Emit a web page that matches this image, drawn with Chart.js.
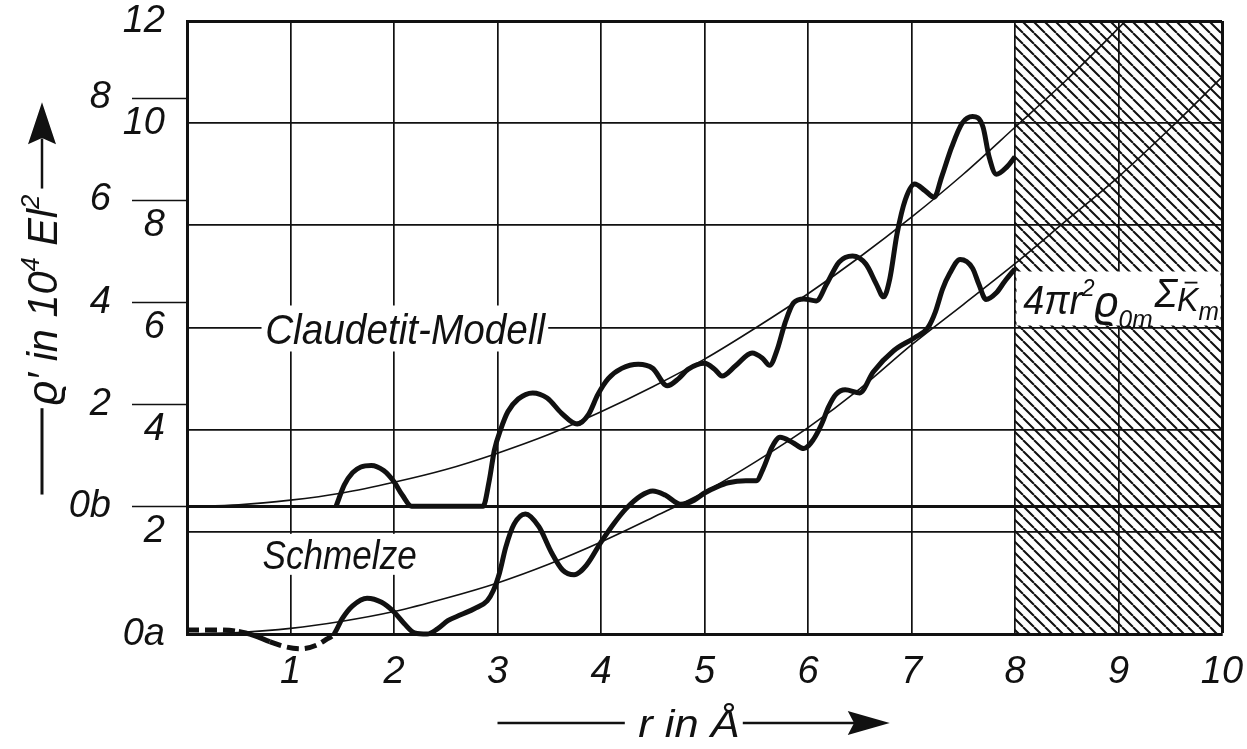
<!DOCTYPE html>
<html>
<head>
<meta charset="utf-8">
<script src="https://cdn.jsdelivr.net/npm/chart.js@4.4.1/dist/chart.umd.min.js"></script>
<style>
  html, body { margin: 0; padding: 0; background: #fff; }
  #wrap { width: 1247px; height: 749px; }
</style>
</head>
<body>
<div id="wrap"><canvas id="chart" width="1247" height="749"></canvas></div>
<script>
// r in Angstrom (x), curve a = Schmelze (left inner scale), curve b = Claudetit-Modell (outer scale)
const xTicks = [1, 2, 3, 4, 5, 6, 7, 8, 9, 10];
const aTicks = [0, 2, 4, 6, 8, 10, 12];
const bTicks = [0, 2, 4, 6, 8];

const claudetitR = [1.44, 1.52, 1.6, 1.68, 1.78, 1.9, 2.0, 2.08, 2.17, 2.5,
  2.86, 2.92, 2.97, 3.03, 3.1, 3.2, 3.34, 3.48, 3.62, 3.77,
  3.88, 3.97, 4.07, 4.2, 4.36, 4.5, 4.64, 4.75, 4.84, 5.0,
  5.1, 5.17, 5.3, 5.46, 5.56, 5.63, 5.7, 5.78, 5.86, 5.96,
  6.08, 6.18, 6.3, 6.43, 6.56, 6.66, 6.73, 6.79, 6.86, 6.94,
  7.03, 7.13, 7.22, 7.29, 7.39, 7.49, 7.59, 7.69, 7.75, 7.82,
  7.92, 8.0];
const claudetitB = [0, 0.42, 0.66, 0.77, 0.8, 0.7, 0.48, 0.22, 0, 0,
  0, 0.5, 1.1, 1.5, 1.85, 2.1, 2.22, 2.12, 1.82, 1.61,
  1.8, 2.19, 2.5, 2.7, 2.78, 2.7, 2.36, 2.5, 2.68, 2.8,
  2.68, 2.55, 2.75, 3.0, 2.9, 2.76, 3.05, 3.6, 3.98, 4.06,
  4.02, 4.35, 4.78, 4.9, 4.74, 4.35, 4.1, 4.45, 5.33, 6.0,
  6.31, 6.18, 6.05, 6.44, 7.04, 7.5, 7.63, 7.43, 6.84, 6.5,
  6.64, 6.84];

const schmelzeR = [0, 0.25, 0.5, 0.65, 0.8, 0.95, 1.1, 1.25, 1.35, 1.42,
  1.5, 1.6, 1.74, 1.88, 2.0, 2.1, 2.2, 2.32, 2.42, 2.52,
  2.65, 2.78, 2.9, 2.96, 3.02, 3.08, 3.16, 3.27, 3.4, 3.52,
  3.63, 3.74, 3.86, 4.0, 4.12, 4.24, 4.38, 4.5, 4.62, 4.77,
  4.9, 5.0, 5.12, 5.23, 5.4, 5.5, 5.57, 5.65, 5.73, 5.85,
  5.96, 6.05, 6.13, 6.2, 6.27, 6.36, 6.5, 6.63, 6.83, 7.03,
  7.16, 7.23, 7.3, 7.37, 7.47, 7.59, 7.65, 7.72, 7.82, 7.9,
  8.0];
const schmelzeA = [0.08, 0.08, 0.05, -0.03, -0.15, -0.25, -0.29, -0.22, -0.1, 0,
  0.3, 0.55, 0.7, 0.62, 0.43, 0.2, 0.02, 0, 0.1, 0.26,
  0.38, 0.5, 0.65, 0.85, 1.2, 1.7, 2.15, 2.35, 2.1, 1.6,
  1.25, 1.16, 1.35, 1.8, 2.15, 2.45, 2.7, 2.8, 2.72, 2.54,
  2.62, 2.76, 2.88, 2.96, 3.0, 3.0, 3.25, 3.65, 3.85, 3.75,
  3.63, 3.8, 4.1, 4.45, 4.69, 4.78, 4.72, 5.13, 5.55, 5.8,
  6.0, 6.3, 6.75, 7.06, 7.33, 7.16, 6.85, 6.55, 6.68, 6.9,
  7.15];
// r ranges where the Schmelze curve is drawn dashed
const schmelzeDashed = [[0, 0.5], [0.8, 1.42]];

// mean density curves 4 pi r^2 rho0m Sum Km
const densityR = [0, 0.5, 1, 1.5, 2, 2.5, 3, 3.5, 4, 4.5, 5, 5.5, 6, 6.5, 7, 7.5, 8, 8.5, 9, 9.5, 10];
const densityClaudetitB = [0, 0.03, 0.12, 0.26, 0.47, 0.72, 1.04, 1.41, 1.85, 2.34, 2.88, 3.5, 4.16, 4.88, 5.66, 6.5, 7.42, 8.35, 9.36, 10.4, 11.5];
const densitySchmelzeA = [0, 0.03, 0.11, 0.25, 0.44, 0.7, 1.0, 1.37, 1.8, 2.28, 2.78, 3.38, 4.04, 4.8, 5.66, 6.45, 7.25, 8.1, 8.95, 9.9, 10.9];

// hatched range of r
const hatchRange = [8, 10];

const ink = '#111';
const lettering = "'Liberation Sans', Arimo, Arial, sans-serif";
const font = (size) => `italic ${size}px ${lettering}`;

const toPoints = (xs, ys) => xs.map((x, i) => ({ x, y: ys[i] }));
const inDashed = (x0, x1) => schmelzeDashed.some(([lo, hi]) => x0 >= lo && x1 <= hi);

function makeHatch() {
  const s = 11;
  const c = document.createElement('canvas');
  c.width = s; c.height = s;
  const g = c.getContext('2d');
  g.strokeStyle = ink;
  g.lineWidth = 2;
  g.beginPath();
  [-1, 0, 1].forEach((k) => { g.moveTo(k * s, 0); g.lineTo(k * s + s, s); });
  g.stroke();
  return g.createPattern(c, 'repeat');
}

function fitText(ctx, text, x, y, width, size) {
  ctx.save();
  ctx.font = font(size);
  const w = ctx.measureText(text).width;
  ctx.translate(x, y);
  ctx.scale(width / w, 1);
  ctx.textAlign = 'left';
  ctx.textBaseline = 'alphabetic';
  ctx.fillStyle = ink;
  ctx.fillText(text, 0, 0);
  ctx.restore();
}

function whiteBox(ctx, x0, y0, x1, y1) {
  ctx.fillStyle = '#fff';
  ctx.fillRect(x0, y0, x1 - x0, y1 - y0);
}

function arrowHead(ctx, tipX, tipY, dx, dy, len, half) {
  const bx = tipX - dx * len, by = tipY - dy * len;
  ctx.beginPath();
  ctx.moveTo(tipX, tipY);
  ctx.lineTo(bx - dy * half, by + dx * half);
  ctx.lineTo(bx + dx * len * 0.15, by + dy * len * 0.15);
  ctx.lineTo(bx + dy * half, by - dx * half);
  ctx.closePath();
  ctx.fill();
}

function drawFormula(ctx, left, baseline, width) {
  const parts = [
    { t: '4πr', size: 40, dy: 0 },
    { t: '2', size: 24, dy: -18 },
    { t: 'ϱ', size: 44, dy: 3 },
    { t: '0m', size: 26, dy: 14 },
    { t: 'Σ', size: 40, dy: -7, gap: 2 },
    { t: 'K', size: 34, dy: -3, bar: true },
    { t: 'm', size: 26, dy: 6 }
  ];
  let total = 0;
  parts.forEach((p) => { ctx.font = font(p.size); p.w = ctx.measureText(p.t).width; total += p.w + (p.gap || 0); });
  const k = width / total;
  ctx.save();
  ctx.translate(left, baseline);
  ctx.scale(k, 1);
  ctx.fillStyle = ink;
  ctx.strokeStyle = ink;
  ctx.textBaseline = 'alphabetic';
  ctx.textAlign = 'left';
  let x = 0;
  parts.forEach((p) => {
    x += p.gap || 0;
    ctx.font = font(p.size);
    ctx.fillText(p.t, x, p.dy);
    if (p.bar) {
      ctx.lineWidth = 1.8;
      ctx.beginPath();
      ctx.moveTo(x + p.w * 0.35, p.dy - p.size * 0.82);
      ctx.lineTo(x + p.w * 0.95, p.dy - p.size * 0.82);
      ctx.stroke();
    }
    x += p.w;
  });
  ctx.restore();
}

const decorPlugin = {
  id: 'decor',
  beforeDatasetsDraw(chart) {
    const { ctx, chartArea, scales } = chart;
    const sx = (v) => scales.x.getPixelForValue(v);
    const sa = (v) => scales.a.getPixelForValue(v);
    ctx.save();
    // hatched region
    ctx.fillStyle = makeHatch();
    ctx.fillRect(sx(hatchRange[0]), chartArea.top, sx(hatchRange[1]) - sx(hatchRange[0]), chartArea.bottom - chartArea.top);

    // label boxes that break the grid
    whiteBox(ctx, sx(0.72), sa(6) - 22, sx(3.49), sa(6) + 24);
    whiteBox(ctx, sx(0.66), sa(2) + 2, sx(2.29), sa(2) + 43);
    whiteBox(ctx, sx(8.0) + 1.5, sa(6) - 56, sx(10) - 1.5, sa(6) - 2);

    fitText(ctx, 'Claudetit-Modell', sx(0.755), sa(6) + 16, sx(3.46) - sx(0.755), 42);
    fitText(ctx, 'Schmelze', sx(0.73), sa(2) + 37, sx(2.22) - sx(0.73), 40);
    drawFormula(ctx, sx(8.08), sa(6) - 14, sx(9.97) - sx(8.08));
    ctx.restore();
  },
  afterDraw(chart) {
    const { ctx, chartArea, scales } = chart;
    const sx = (v) => scales.x.getPixelForValue(v);
    const sa = (v) => scales.a.getPixelForValue(v);
    ctx.save();
    ctx.strokeStyle = ink;
    ctx.fillStyle = ink;

    // outer tick marks of scale b, reaching over the inner label column
    ctx.lineWidth = 1.6;
    bTicks.forEach((v) => {
      const y = Math.round(scales.b.getPixelForValue(v)) + 0.5;
      ctx.beginPath();
      ctx.moveTo(chartArea.left - 55, y);
      ctx.lineTo(chartArea.left, y);
      ctx.stroke();
    });

    // x title: --- r in Å --->
    const yLine = chartArea.bottom + 89;
    ctx.lineWidth = 2.5;
    ctx.beginPath();
    ctx.moveTo(sx(3.0), yLine); ctx.lineTo(sx(4.23), yLine);
    ctx.moveTo(sx(5.37), yLine); ctx.lineTo(sx(6.5), yLine);
    ctx.stroke();
    arrowHead(ctx, sx(6.79), yLine, 1, 0, 42, 12);
    fitText(ctx, 'r in Å', sx(4.36), chartArea.bottom + 103, sx(5.34) - sx(4.36), 38);

    // y title, rotated: --- ϱ' in 10⁴ El² --->
    const xc = 42;
    ctx.save();
    ctx.translate(xc + 15, sa(4.49));
    ctx.rotate(-Math.PI / 2);
    const len = sa(4.49) - sa(8.6);
    ctx.fillStyle = ink;
    const parts = [{ t: 'ϱ′ in 10', s: 42, dy: 0 }, { t: '4', s: 26, dy: -18 }, { t: ' El', s: 42, dy: 0 }, { t: '2', s: 26, dy: -18 }];
    let tot = 0;
    parts.forEach((p) => { ctx.font = font(p.s); p.w = ctx.measureText(p.t).width; tot += p.w; });
    ctx.scale(len / tot, 1);
    let px = 0;
    parts.forEach((p) => { ctx.font = font(p.s); ctx.fillText(p.t, px, p.dy); px += p.w; });
    ctx.restore();

    ctx.lineWidth = 3;
    ctx.beginPath();
    ctx.moveTo(xc, sa(4.42)); ctx.lineTo(xc, sa(2.73));
    ctx.stroke();
    ctx.lineWidth = 2.5;
    ctx.beginPath();
    ctx.moveTo(xc, sa(8.72)); ctx.lineTo(xc, sa(9.7));
    ctx.stroke();
    arrowHead(ctx, xc, sa(10.41), 0, -1, 42, 14);
    ctx.restore();
  }
};

const tickFont = { family: lettering, size: 38, style: 'italic' };
// drop the label half-height padding so the plot area fills the frame
const noPad = (s) => { s.paddingTop = 0; s.paddingBottom = 0; s.paddingLeft = 0; s.paddingRight = 0; };

new Chart(document.getElementById('chart'), {
  type: 'line',
  data: {
    datasets: [
      {
        label: 'Claudetit-Modell',
        data: toPoints(claudetitR, claudetitB),
        yAxisID: 'b',
        borderColor: ink,
        borderWidth: 5,
        pointRadius: 0,
        cubicInterpolationMode: 'monotone',
        fill: false
      },
      {
        label: 'Schmelze',
        data: toPoints(schmelzeR, schmelzeA),
        yAxisID: 'a',
        borderColor: ink,
        borderWidth: 5,
        pointRadius: 0,
        cubicInterpolationMode: 'monotone',
        fill: false,
        clip: { left: 5, top: 5, right: 5, bottom: 25 },
        segment: {
          borderDash: (c) => (inDashed(c.p0.parsed.x, c.p1.parsed.x) ? [12, 6] : undefined)
        }
      },
      {
        label: '4πr²ϱ0m ΣKm (Claudetit)',
        data: toPoints(densityR, densityClaudetitB),
        yAxisID: 'b',
        borderColor: ink,
        borderWidth: 1.6,
        pointRadius: 0,
        cubicInterpolationMode: 'monotone',
        fill: false
      },
      {
        label: '4πr²ϱ0m ΣKm (Schmelze)',
        data: toPoints(densityR, densitySchmelzeA),
        yAxisID: 'a',
        borderColor: ink,
        borderWidth: 1.6,
        pointRadius: 0,
        cubicInterpolationMode: 'monotone',
        fill: false
      }
    ]
  },
  options: {
    responsive: false,
    animation: false,
    devicePixelRatio: 1,
    layout: { padding: { left: 0, right: 25, top: 21, bottom: 0 } },
    plugins: { legend: { display: false }, tooltip: { enabled: false } },
    scales: {
      x: {
        type: 'linear',
        min: 0,
        max: 10,
        afterBuildTicks: (s) => { s.ticks = xTicks.map((v) => ({ value: v })); },
        afterFit: (s) => { s.height = 115; noPad(s); },
        grid: {
          color: ink,
          lineWidth: (c) => (c.tick && c.tick.value === 10 ? 3 : 1.7),
          drawTicks: false
        },
        border: { display: true, color: ink, width: 3 },
        ticks: { font: tickFont, color: ink, padding: 16, maxRotation: 0, autoSkip: false }
      },
      a: {
        axis: 'y',
        type: 'linear',
        position: 'left',
        weight: 0,
        min: 0,
        max: 12,
        afterBuildTicks: (s) => { s.ticks = aTicks.map((v) => ({ value: v })); },
        afterFit: (s) => { s.width = 72; noPad(s); },
        grid: {
          color: ink,
          lineWidth: (c) => (c.tick && (c.tick.value === 12 || c.tick.value === 0) ? 3 : 1.7),
          drawTicks: false
        },
        border: { display: true, color: ink, width: 3 },
        ticks: {
          font: tickFont,
          color: ink,
          padding: 22,
          autoSkip: false,
          callback: (v) => (v === 0 ? '0a' : String(v))
        }
      },
      b: {
        axis: 'y',
        type: 'linear',
        position: 'left',
        weight: 1,
        min: -2.5,
        max: 9.5,
        afterBuildTicks: (s) => { s.ticks = bTicks.map((v) => ({ value: v })); },
        afterFit: (s) => { s.width = 115; noPad(s); },
        grid: {
          drawOnChartArea: true,
          drawTicks: false,
          color: (c) => (c.tick && c.tick.value === 0 ? ink : 'rgba(0,0,0,0)'),
          lineWidth: 3
        },
        border: { display: false },
        ticks: {
          font: tickFont,
          color: ink,
          padding: 4,
          autoSkip: false,
          callback: (v) => (v === 0 ? '0b' : String(v))
        }
      }
    }
  },
  plugins: [decorPlugin]
});
</script>
</body>
</html>
